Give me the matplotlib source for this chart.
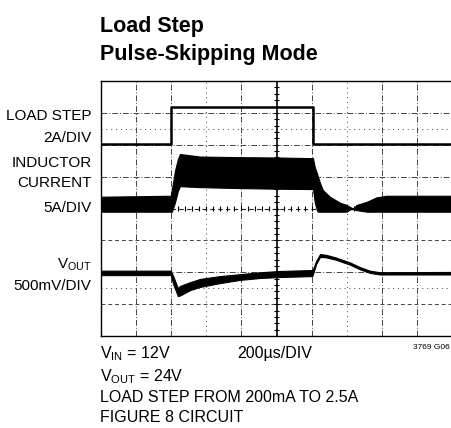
import numpy as np
import matplotlib
matplotlib.use("Agg")
import matplotlib.pyplot as plt
from matplotlib import font_manager

plt.rcParams['font.family'] = ['Liberation Sans', 'DejaVu Sans']
plt.rcParams['mathtext.fontset'] = 'custom'
plt.rcParams['mathtext.rm'] = 'Liberation Sans'

W, H = 451, 428

# scope traces, in divisions (x: 0..10, y: 0..8)
load_x = [0, 1.99, 1.99, 6.04, 6.04, 10]
load_y = [6.02, 6.02, 7.19, 7.19, 6.02, 6.02]

il_x = [0, 1.99, 2.02, 2.11, 2.19, 2.25, 2.82, 3.96, 5.10, 5.95, 6.04, 6.09, 6.15, 6.18,
        6.24, 6.32, 6.52, 6.81, 7.00, 7.09, 7.18, 7.28, 7.57, 7.85, 8.14, 10]
il_hi = [4.37, 4.40, 4.60, 5.20, 5.55, 5.71, 5.63, 5.61, 5.60, 5.58, 5.58, 5.30, 5.11, 5.00,
         4.80, 4.58, 4.37, 4.18, 4.11, 4.05, 4.00, 4.11, 4.21, 4.35, 4.40, 4.40]
il_lo = [3.90, 3.90, 3.90, 4.20, 4.55, 4.70, 4.67, 4.64, 4.62, 4.61, 4.61, 4.20, 3.95, 3.90,
         3.90, 3.90, 3.90, 3.90, 3.90, 3.97, 3.98, 3.95, 3.90, 3.90, 3.90, 3.90]

vo_x = [0, 1.99, 2.05, 2.19, 2.25, 2.54, 2.82, 3.39, 3.96, 4.53, 5.10, 6.02, 6.04, 6.13,
        6.24, 6.40, 6.67, 7.09, 7.38, 7.66, 7.95, 10]
vo_hi = [2.05, 2.05, 1.90, 1.50, 1.57, 1.69, 1.79, 1.88, 1.94, 2.00, 2.04, 2.07, 2.10, 2.36,
         2.57, 2.55, 2.47, 2.31, 2.16, 2.05, 2.00, 2.01]
vo_lo = [1.91, 1.91, 1.65, 1.25, 1.27, 1.44, 1.54, 1.66, 1.76, 1.82, 1.85, 1.88, 1.95, 2.26,
         2.48, 2.47, 2.40, 2.24, 2.09, 1.98, 1.93, 1.93]

names = {f.name for f in font_manager.fontManager.ttflist}
if 'Liberation Sans Narrow' in names:
    note_font, note_size = 'Liberation Sans Narrow', 13.5
else:
    note_font, note_size = 'Liberation Sans', 11.5

dashdot = (0, (6, 2, 1, 2))
dotted = (0, (1, 4))
dashed = (0, (4, 3))

fig = plt.figure(figsize=(W / 100, H / 100), dpi=100)
ax = fig.add_axes([101 / W, 92 / H, 351 / W, 255 / H])
ax.set_xlim(0, 10)
ax.set_ylim(0, 8)
ax.set_xticks([])
ax.set_yticks([])
for s in ax.spines.values():
    s.set_linewidth(1.0)
    s.set_color('black')

# graticule
for gx in range(1, 10):
    if gx == 5:
        continue
    ls = dotted if gx in (3, 7) else dashdot
    ax.axvline(gx, color='#444444', lw=0.7, ls=ls, zorder=1)
for gy, ls in [(7, dashdot), (6.5, dotted), (6, dashdot), (5, dashdot),
               (3, dashed), (2, dashdot), (1.5, dotted), (1, dashed)]:
    ax.axhline(gy, color='#444444', lw=0.7, ls=ls, zorder=1)
ax.axvline(5, color='black', lw=1.2, zorder=1)
ax.axhline(4, color='#222222', lw=0.8, ls=dashed, zorder=1)
tx = np.arange(0.2, 10, 0.2)
ax.vlines(tx, 4 - 0.08, 4 + 0.08, color='black', lw=0.8, zorder=1)
ty = np.arange(0.2, 8, 0.2)
ax.hlines(ty, 5 - 0.07, 5 + 0.07, color='black', lw=0.8, zorder=1)

# traces
ax.plot(load_x, load_y, color='black', lw=1.8, zorder=3)
ax.fill_between(il_x, il_lo, il_hi, color='black', lw=0.8, zorder=3)
ax.fill_between(vo_x, vo_lo, vo_hi, color='black', lw=0.8, zorder=3)


def fpos(x, y):
    return x / W, 1 - y / H


fig.text(*fpos(100, 32), 'Load Step', fontsize=15.5, fontweight='bold', va='baseline')
fig.text(*fpos(100, 60), 'Pulse-Skipping Mode', fontsize=15.5, fontweight='bold',
         va='baseline')

left_labels = [('LOAD STEP', 120.5), ('2A/DIV', 142), ('INDUCTOR', 167), ('CURRENT', 187),
               ('5A/DIV', 212), (r'V$_{\mathregular{OUT}}$', 268.5), ('500mV/DIV', 290.5)]
for txt, by in left_labels:
    fig.text(*fpos(91.5, by), txt, fontsize=11, ha='right', va='baseline')

notes = [(100, 358, r'V$_{\mathregular{IN}}$ = 12V'),
         (237, 358, '200µs/DIV'),
         (100, 381.7, r'V$_{\mathregular{OUT}}$ = 24V'),
         (100, 401.7, 'LOAD STEP FROM 200mA TO 2.5A'),
         (100, 421.7, 'FIGURE 8 CIRCUIT')]
for x, y, txt in notes:
    fig.text(*fpos(x, y), txt, fontsize=note_size, family=note_font, va='baseline',
             math_fontfamily='custom')
fig.text(*fpos(450, 349), '3769 G06', fontsize=6, ha='right', va='baseline')

fig.savefig('out.png', dpi=100)
